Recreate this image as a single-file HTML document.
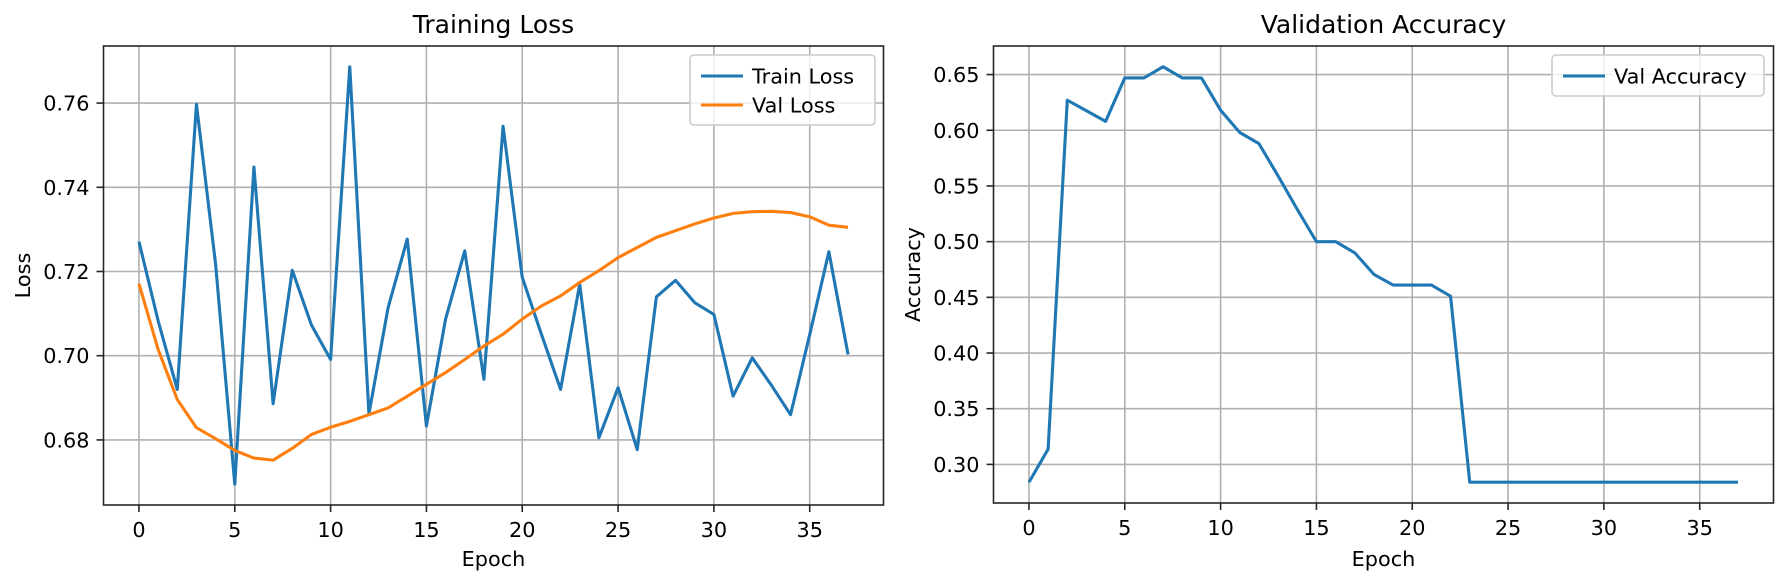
<!DOCTYPE html>
<html><head><meta charset="utf-8"><style>
html,body{margin:0;padding:0;background:#fff;}
svg{display:block;font-family:"DejaVu Sans","Liberation Sans",sans-serif;}
</style></head><body>
<svg id="fig" width="1784" height="581" viewBox="0 0 1784 581" xmlns="http://www.w3.org/2000/svg"></svg>
<script>
const epochs = Array.from({length:38},(_,i)=>i);
const trainLoss = [0.7271,0.7083,0.692,0.7597,0.7217,0.6695,0.7448,0.6886,0.7203,0.7073,0.6991,0.7686,0.6862,0.7114,0.7277,0.6833,0.7087,0.7249,0.6944,0.7545,0.7186,0.7051,0.692,0.717,0.6805,0.6924,0.6777,0.714,0.7179,0.7126,0.7098,0.6904,0.6995,0.693,0.686,0.705,0.7247,0.7003];
const valLoss = [0.7171,0.7015,0.6896,0.6829,0.6803,0.6775,0.6757,0.6752,0.678,0.6813,0.683,0.6844,0.686,0.6876,0.6904,0.6932,0.696,0.6991,0.7023,0.7051,0.7087,0.7118,0.7142,0.7174,0.7202,0.7233,0.7257,0.7281,0.7297,0.7313,0.7327,0.7338,0.7342,0.7343,0.734,0.733,0.731,0.7305];
const valAcc = [0.284,0.3137,0.627,0.6175,0.608,0.647,0.647,0.657,0.647,0.647,0.618,0.598,0.588,0.559,0.529,0.50,0.50,0.490,0.4706,0.461,0.461,0.461,0.451,0.284,0.284,0.284,0.284,0.284,0.284,0.284,0.284,0.284,0.284,0.284,0.284,0.284,0.284,0.284];
const xTicks = [0,5,10,15,20,25,30,35];
const lossTicks = [0.68,0.70,0.72,0.74,0.76];
const accTicks = [0.30,0.35,0.40,0.45,0.50,0.55,0.60,0.65];

const NS="http://www.w3.org/2000/svg";
const svg=document.getElementById('fig');
function mk(tag,attrs,parent){const e=document.createElementNS(NS,tag);for(const k in attrs)e.setAttribute(k,attrs[k]);(parent||svg).appendChild(e);return e;}
function lim(arrs){let mn=Infinity,mx=-Infinity;arrs.forEach(a=>a.forEach(v=>{mn=Math.min(mn,v);mx=Math.max(mx,v);}));const m=(mx-mn)*0.05;return [mn-m,mx+m];}

function panel(opt){
  const {x0,x1,y0,y1}=opt;
  const g=mk('g',{});
  
  
  const xl=[-1.85,38.85];
  const yl=lim(opt.series.map(s=>s.data));
  const sx=v=>x0+(v-xl[0])/(xl[1]-xl[0])*(x1-x0);
  const sy=v=>y1-(v-yl[0])/(yl[1]-yl[0])*(y1-y0);
  // grid
  xTicks.forEach(t=>{const l=mk('line',{x1:sx(t),x2:sx(t),y1:y0,y2:y1,stroke:'#b0b0b0','stroke-width':1.6},g);
    });
  opt.yTicks.forEach(t=>{const l=mk('line',{x1:x0,x2:x1,y1:sy(t),y2:sy(t),stroke:'#b0b0b0','stroke-width':1.6},g);
    });
  // series
  opt.series.forEach(s=>{
    const p=mk('polyline',{points:epochs.map((e,i)=>sx(e)+','+sy(s.data[i])).join(' '),fill:'none',stroke:s.color,'stroke-width':3.1,'stroke-linejoin':'round'},g);
    
    
  });
  // axes frame
  const fr=mk('rect',{x:x0,y:y0,width:x1-x0,height:y1-y0,fill:'none',stroke:'#262626','stroke-width':1.6},g);
  
  // ticks
  xTicks.forEach(t=>{mk('line',{x1:sx(t),x2:sx(t),y1:y1,y2:y1+7,stroke:'#262626','stroke-width':1.6},g);
    const tx=mk('text',{x:sx(t),y:y1+32,'font-size':20.8,'text-anchor':'middle',fill:'#000'},g);tx.textContent=t;
    });
  opt.yTicks.forEach(t=>{mk('line',{x1:x0-7,x2:x0,y1:sy(t),y2:sy(t),stroke:'#262626','stroke-width':1.6},g);
    const tx=mk('text',{x:x0-14,y:sy(t)+7.5,'font-size':20.8,'text-anchor':'end',fill:'#000'},g);tx.textContent=t.toFixed(2);
    });
  const tt=mk('text',{x:(x0+x1)/2,y:33,'font-size':25,'text-anchor':'middle',fill:'#000'},g);tt.textContent=opt.title;
  
  const xa=mk('text',{x:(x0+x1)/2,y:566,'font-size':20.8,'text-anchor':'middle',fill:'#000'},g);xa.textContent='Epoch';
  
  const ya=mk('text',{x:0,y:0,'font-size':20.8,'text-anchor':'middle',fill:'#000',transform:`translate(${opt.ylabX},${(y0+y1)/2}) rotate(-90)`},g);ya.textContent=opt.ylabel;
  
  // legend
  const lg=mk('g',{},g);
  
  mk('rect',{x:opt.leg.x,y:opt.leg.y,width:opt.leg.w,height:opt.leg.h,rx:4,fill:'#fff','fill-opacity':0.8,stroke:'#cccccc','stroke-width':1.6},lg);
  opt.series.forEach((s,i)=>{
    const cy=opt.leg.y+21+i*29;
    mk('line',{x1:opt.leg.x+11,x2:opt.leg.x+53,y1:cy,y2:cy,stroke:s.color,'stroke-width':3.1},lg);
    const lt=mk('text',{x:opt.leg.x+62,y:cy+7.5,'font-size':20.8,fill:'#000'},lg);lt.textContent=s.label;
    
  });
}
panel({name:'training-loss-chart',x0:103.5,x1:883.5,y0:46,y1:505,title:'Training Loss',ylabel:'Loss',ylabX:30,yTicks:lossTicks,
  series:[{name:'train-loss-line',label:'Train Loss',color:'#1f77b4',data:trainLoss},{name:'val-loss-line',label:'Val Loss',color:'#ff7f0e',data:valLoss}],
  leg:{x:690,y:55,w:185,h:70}});
panel({name:'validation-accuracy-chart',x0:993.5,x1:1773.5,y0:46,y1:503,title:'Validation Accuracy',ylabel:'Accuracy',ylabX:920,yTicks:accTicks,
  series:[{name:'val-accuracy-line',label:'Val Accuracy',color:'#1f77b4',data:valAcc}],
  leg:{x:1552,y:55,w:212,h:41}});
</script>
</body></html>
